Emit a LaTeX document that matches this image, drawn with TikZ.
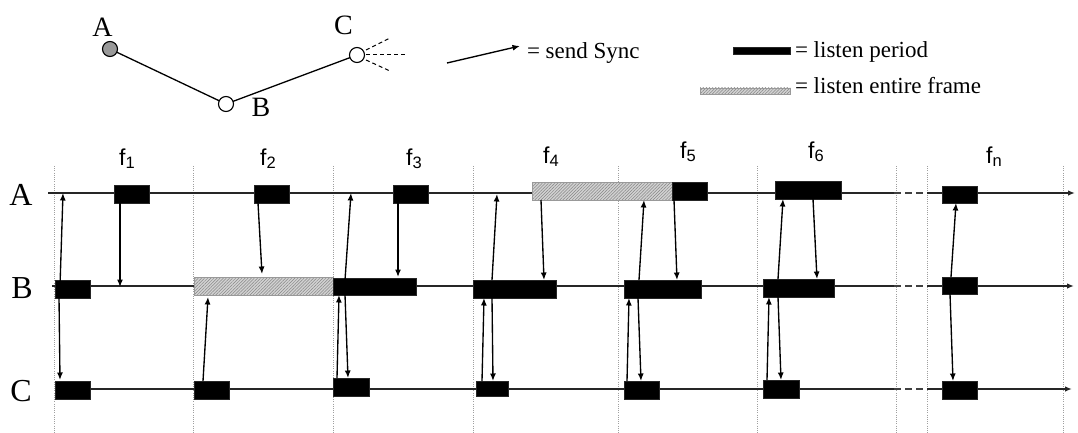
\documentclass[tikz,border=0pt]{standalone}
\usepackage{fontspec}
\setmainfont{Liberation Serif}
\newfontfamily\sansf{Liberation Sans}
\usetikzlibrary{arrows.meta,patterns.meta}

% frame label: f with a lowered index
\newcommand\flab[1]{{\sansf\fontsize{23}{23}\selectfont f\raisebox{-3pt}{\fontsize{16.5}{16.5}\selectfont #1}}}

\begin{document}
\begin{tikzpicture}[x=1pt,y=-1pt,
  every node/.style={inner sep=0pt, outer sep=0pt},
  rowline/.style={line width=1.4pt, draw=black!85},
  gapline/.style={line width=1.4pt, draw=black!75, dash pattern=on 7pt off 4pt},
  frameline/.style={draw=gray!75, line width=0.7pt, dash pattern=on 1pt off 1.2pt},
  sync/.style={line width=1.35pt, -{Latex[length=7.5pt,width=6pt]}},
  endtip/.style={-{Latex[length=7pt,width=5.5pt]}},
  listenbox/.style={draw=black!85, fill=black, line width=0.8pt, anchor=north west},
  framebox/.style={draw=gray!80, line width=0.8pt, anchor=north west,
    preaction={fill=gray!35},
    pattern={Lines[angle=45,distance=2.2pt,line width=0.5pt]}, pattern color=gray!95},
  station/.style={circle, draw=black, line width=1.1pt, minimum size=15pt, fill=white},
  link/.style={line width=1.3pt},
  ray/.style={line width=1pt, dash pattern=on 4pt off 3pt},
  rowlab/.style={anchor=base, font=\fontsize{32}{32}\selectfont},
  toplab/.style={anchor=base, font=\fontsize{28}{28}\selectfont},
  legtext/.style={anchor=base west, font=\fontsize{23}{23}\selectfont}
]
\useasboundingbox (0,0) rectangle (1078,433);

% ---------- network A -- B -- C ----------
\node[station, fill=gray!80] (nA) at (110,49) {};
\node[station] (nB) at (226,104) {};
\node[station] (nC) at (357,55) {};
\draw[link] (nA) -- (nB) -- (nC);
\node[toplab] (tA) at (102.5,37) {A};
\node[toplab] (tB) at (261,117) {B};
\node[toplab] (tC) at (343.5,35) {C};
\coordinate (q1) at (366,50);  \coordinate (r1) at (390,38);
\coordinate (q2) at (366,55);  \coordinate (r2) at (405,55);
\coordinate (q3) at (366,60);  \coordinate (r3) at (390,71);
\draw[ray] (q1) -- (r1);
\draw[ray] (q2) -- (r2);
\draw[ray] (q3) -- (r3);

% ---------- legend ----------
\coordinate (lgs) at (447,63);
\coordinate (lge) at (520,46);
\draw[sync] (lgs) -- (lge);
\node[legtext] (lgsync) at (527,59) {= send Sync};
\node[listenbox, minimum width=57pt, minimum height=7pt] (lgbar) at (733,47) {};
\node[legtext] (lglisten) at (795,58) {= listen period};
\node[framebox, minimum width=90pt, minimum height=6pt] (lghatch) at (700,88) {};
\node[legtext] (lgframe) at (795,94) {= listen entire frame};

% ---------- frame boundaries ----------
\foreach \x in {54,193,333,473,618,757,896,927,1063}
  \draw[frameline] (\x,166) -- (\x,433);

% ---------- frame labels ----------
\node[anchor=base] (f1) at (127,165) {\flab{1}};
\node[anchor=base] (f2) at (268,165) {\flab{2}};
\node[anchor=base] (f3) at (414,165) {\flab{3}};
\node[anchor=base] (f4) at (551,163) {\flab{4}};
\node[anchor=base] (f5) at (688,158) {\flab{5}};
\node[anchor=base] (f6) at (816,158) {\flab{6}};
\node[anchor=base] (fn) at (994,163) {\flab{n}};

% ---------- time lines ----------
\node[rowlab] (labA) at (21,205) {A};
\node[rowlab] (labB) at (22,298) {B};
\node[rowlab] (labC) at (21,401) {C};
\foreach \r/\xs/\y/\xe in {A/48/193/1075, B/52/286/1074, C/55/389/1072}{
  \coordinate (\r0) at (\xs,\y);
  \coordinate (\r g1) at (894,\y);
  \coordinate (\r g2) at (927,\y);
  \coordinate (\r end) at (\xe,\y);
  \draw[rowline] (\r0) -- (\r g1);
  \draw[gapline] (\r g1) -- (\r g2);
  \draw[rowline, endtip] (\r g2) -- (\r end);
}

% ---------- listen periods ----------
\foreach \nm/\xa/\ya/\xb/\yb in {A4/532/182/672/200, B2/194/277/333/295}
  \node[framebox, minimum width={\xb-\xa}, minimum height={\yb-\ya}] (\nm) at (\xa,\ya) {};
\foreach \nm/\xa/\ya/\xb/\yb in {
  A1/114/185/149/203, A2/254/185/289/203, A3/393/185/428/203,
  A5/672/182/707/200, A6/775/181/841/199, An/942/186/977/203,
  B1/55/280/90/298, B3/333/278/416/295, B4/473/280/556/298,
  B5/624/280/701/298, B6/763/279/834/297, Bn/942/277/977/294,
  C1/55/381/90/399, C2/194/381/229/399, C3/333/378/369/396,
  C4/476/381/508/396, C5/624/381/659/399, C6/763/380/799/398,
  Cn/942/381/977/399}
  \node[listenbox, minimum width={\xb-\xa}, minimum height={\yb-\ya}] (\nm) at (\xa,\ya) {};

% ---------- Sync messages ----------
\foreach \k/\xa/\ya/\xb/\yb in {
  1/60/286/63/193, 2/59/297/60/380, 3/120/203/120/287,
  4/258/203/262/274, 5/203/381/208/297,
  6/345/280/351/193, 7/337/378/339/295, 8/345/295/348/378, 9/398/203/398/277,
  10/492/280/497/194, 11/541/200/544/280, 12/482/381/484/298, 13/492/298/493/381,
  14/639/280/644/200, 15/674/200/677/280, 16/627/381/629/298, 17/638/298/641/381,
  18/778/279/783/199, 19/813/199/817/279, 20/767/380/769/297, 21/778/297/781/380,
  22/951/277/956/203, 23/950/294/953/381}{
  \coordinate (s\k) at (\xa,\ya);
  \coordinate (t\k) at (\xb,\yb);
  \draw[sync] (s\k) -- (t\k);
}
\end{tikzpicture}
\end{document}
